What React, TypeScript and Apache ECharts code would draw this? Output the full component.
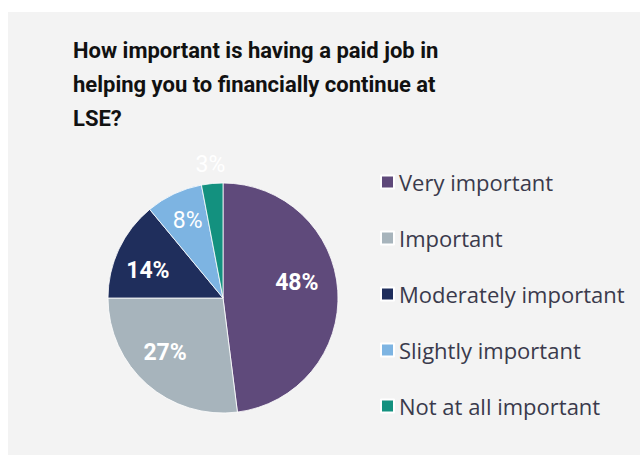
import React, { useEffect, useRef } from "react";
import * as echarts from "echarts";

const categories = ["Very important", "Important", "Moderately important", "Slightly important", "Not at all important"];
const values = [48, 27, 14, 8, 3];
const colors = ["#5f4a7b", "#a7b4bc", "#1f2e5c", "#7db4e2", "#13917f"];
const boldLabels = [true, true, true, false, false];
const labelNudgeX = [-9, -3, 0, 0, 0];
const labelNudgeY = [-10, -8, 8, -2, 0];
const titleText = "How important is having a paid job in\nhelping you to financially continue at\nLSE?";

export default function App() {
  const ref = useRef<HTMLDivElement>(null);
  useEffect(() => {
    if (!ref.current) return;
    const chart = echarts.init(ref.current, undefined, { renderer: "svg" });
    const base = categories.map((name, i) => ({ name, value: values[i] }));
    const labelFor = (i: number, show: boolean) => ({
      show,
      position: "inside",
      color: "#ffffff",
      fontFamily: "Roboto",
      fontSize: 23,
      fontWeight: boldLabels[i] ? "bold" : "normal",
      formatter: "{c}%",
    });
    chart.setOption({
      animation: false,
      backgroundColor: "transparent",
      color: colors,
      title: {
        text: titleText,
        left: 73,
        top: 33,
        padding: 0,
        textStyle: {
          fontFamily: "Roboto",
          fontWeight: "bold",
          fontSize: 22,
          lineHeight: 34,
          color: "#111111",
        },
      },
      legend: {
        orient: "vertical",
        left: 380,
        top: 171,
        padding: 0,
        itemWidth: 13,
        itemHeight: 13,
        itemGap: 34,
        icon: "rect",
        selectedMode: false,
        data: categories,
        textStyle: {
          fontFamily: "Open Sans",
          fontSize: 22,
          lineHeight: 22,
          color: "#3a3a4c",
        },
      },
      series: [
        {
          type: "pie",
          center: [223, 298],
          radius: [0, 115],
          startAngle: 90,
          clockwise: true,
          silent: true,
          label: { show: false },
          labelLine: { show: false },
          itemStyle: { borderColor: "#ffffff", borderWidth: 0.8 },
          data: base.map((d, i) => ({ ...d, itemStyle: { color: colors[i] } })),
        },
        {
          type: "pie",
          center: [223, 298],
          radius: [45, 115],
          startAngle: 90,
          clockwise: true,
          silent: true,
          labelLine: { show: false },
          itemStyle: { color: "transparent", borderWidth: 0 },
          labelLayout: (p: any) => ({ dx: labelNudgeX[p.dataIndex], dy: labelNudgeY[p.dataIndex] }),
          data: base.map((d, i) => ({ ...d, label: labelFor(i, i < 4) })),
        },
        {
          type: "pie",
          center: [223, 298],
          radius: [115, 147],
          startAngle: 90,
          clockwise: true,
          silent: true,
          labelLine: { show: false },
          itemStyle: { color: "transparent", borderWidth: 0 },
          data: base.map((d, i) => ({ ...d, label: labelFor(i, i === 4) })),
        },
      ],
    });
    return () => chart.dispose();
  }, []);
  return (
    <div style={{ position: "absolute", left: 0, top: 0, width: 640, height: 455, background: "#ffffff" }}>
      <div style={{ position: "absolute", left: 8, top: 12, width: 632, height: 443, background: "#f3f3f3" }} />
      <div ref={ref} style={{ position: "absolute", left: 0, top: 0, width: 640, height: 455 }} />
    </div>
  );
}
